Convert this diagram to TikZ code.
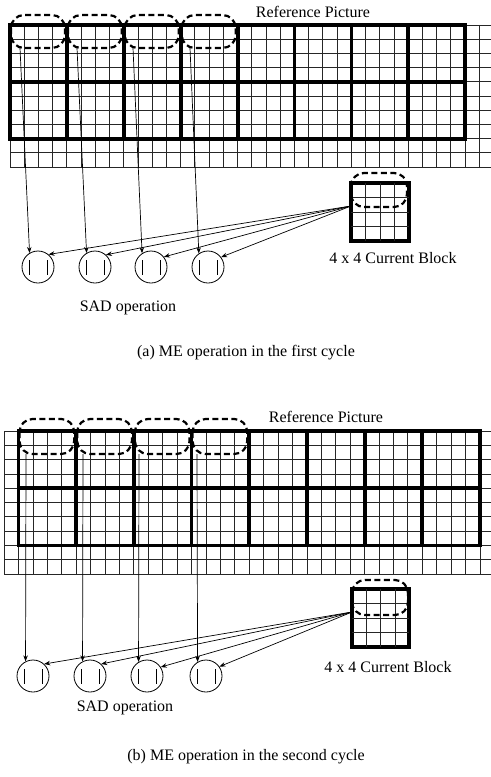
\documentclass[tikz,border=0pt]{standalone}
\usepackage{fontspec}
\setmainfont{Liberation Serif}
\usetikzlibrary{arrows.meta}
\begin{document}
\begin{tikzpicture}[x=1bp,y=-1bp,
  finegrid/.style={line width=0.8bp, black!85},
  heavygrid/.style={line width=3.8bp, line cap=rect},
  cand/.style={draw, dash pattern=on 6bp off 3.5bp, line width=2.2bp, rounded corners=13bp},
  sad/.style={circle, draw, line width=0.8bp, minimum size=32bp, inner sep=0pt,
    path picture={
      \draw[line width=0.8bp] ([xshift=-9bp,yshift=-7.5bp]path picture bounding box.center) -- ++(0,15bp);
      \draw[line width=0.8bp] ([xshift=9bp,yshift=-7.5bp]path picture bounding box.center) -- ++(0,15bp);
    }},
  arr/.style={-{Stealth[length=6bp,width=4.5bp]}, line width=0.7bp},
  lbl/.style={font=\fontsize{16bp}{19bp}\selectfont, inner sep=0pt}
]
\useasboundingbox (0,0) rectangle (491,777);

% ================= (a) first cycle =================
\foreach \k in {0,...,10} \draw[finegrid] (10,{25+14.2*\k}) -- (491,{25+14.2*\k});
\foreach \k in {0,...,33} \draw[finegrid] ({10+14.22*\k},25) -- ({10+14.22*\k},167);
\draw[heavygrid] (10,25) rectangle (465,138.6);
\foreach \k in {1,...,7} \draw[heavygrid] ({10+56.9*\k},25) -- ({10+56.9*\k},138.6);
\draw[heavygrid] (10,81.8) -- (465,81.8);

\foreach \i in {0,...,3}
  \draw[cand] ({10+56.9*\i+1},15) rectangle ({10+56.9*(\i+1)-2},48);

\node[lbl] (refa) at (313,12) {Reference Picture};

% current block (a)
\node[draw, line width=3.8bp, minimum size=58bp, inner sep=0pt] (cba) at (380,212) {};
\foreach \k in {1,2,3} {
  \draw[finegrid] ({351+14.5*\k},183) -- ({351+14.5*\k},241);
  \draw[finegrid] (351,{183+14.5*\k}) -- (409,{183+14.5*\k});
}
\draw[cand] (351,173) rectangle (407,207);
\node[lbl] (cbla) at (393,258) {4 x 4 Current Block};

% SAD units (a)
\node[sad] (a1) at (38,267) {};
\node[sad] (a2) at (95,267) {};
\node[sad] (a3) at (151,267) {};
\node[sad] (a4) at (208,267) {};
\node[lbl] (sada) at (128,308) {SAD operation};

\coordinate (sa1) at (20,48);
\coordinate (sa2) at (77,48);
\coordinate (sa3) at (133,48);
\coordinate (sa4) at (190,48);
\coordinate (fa) at (351,206);
\draw[arr] (sa1) -- (a1.121);
\draw[arr] (sa2) -- (a2.121);
\draw[arr] (sa3) -- (a3.123);
\draw[arr] (sa4) -- (a4.124);
\draw[arr] (fa) -- (a1.50);
\draw[arr] (fa) -- (a2.48);
\draw[arr] (fa) -- (a3.38);
\draw[arr] (fa) -- (a4.37);

\node[lbl] (capa) at (246,353) {(a) ME operation in the first cycle};

% ================= (b) second cycle =================
\foreach \k in {0,...,10} \draw[finegrid] (4.1,{431+14.3*\k}) -- (491,{431+14.3*\k});
\foreach \k in {0,...,33} \draw[finegrid] ({4.1+14.42*\k},431) -- ({4.1+14.42*\k},574);
\draw[heavygrid] (18.5,431) rectangle (480,545.4);
\foreach \k in {1,...,7} \draw[heavygrid] ({18.5+57.69*\k},431) -- ({18.5+57.69*\k},545.4);
\draw[heavygrid] (18.5,488.2) -- (480,488.2);

\foreach \i in {0,...,3}
  \draw[cand] ({18.5+57.69*\i+1},419) rectangle ({18.5+57.69*(\i+1)-2},454);

\node[lbl] (refb) at (326,417) {Reference Picture};

% current block (b)
\node[draw, line width=3.8bp, minimum size=57.5bp, inner sep=0pt] (cbb) at (380.5,618) {};
\foreach \k in {1,2,3} {
  \draw[finegrid] ({352+14.35*\k},589) -- ({352+14.35*\k},647);
  \draw[finegrid] (352,{589+14.5*\k}) -- (409,{589+14.5*\k});
}
\draw[cand] (352,580) rectangle (408,615);
\node[lbl] (cblb) at (388,667) {4 x 4 Current Block};

% SAD units (b)
\node[sad] (b1) at (33,676) {};
\node[sad] (b2) at (90,676) {};
\node[sad] (b3) at (147,676) {};
\node[sad] (b4) at (206,676) {};
\node[lbl] (sadb) at (125,708) {SAD operation};

\coordinate (sb1) at (26,454);
\coordinate (sb2) at (83,454);
\coordinate (sb3) at (139,454);
\coordinate (sb4) at (197,454);
\coordinate (fb) at (352,612);
\draw[arr] (sb1) -- (b1.117);
\draw[arr] (sb2) -- (b2.117);
\draw[arr] (sb3) -- (b3.121);
\draw[arr] (sb4) -- (b4.121);
\draw[arr] (fb) -- (b1.47);
\draw[arr] (fb) -- (b2.47);
\draw[arr] (fb) -- (b3.33);
\draw[arr] (fb) -- (b4.35);

\node[lbl] (capb) at (246,757) {(b) ME operation in the second cycle};
\end{tikzpicture}
\end{document}
